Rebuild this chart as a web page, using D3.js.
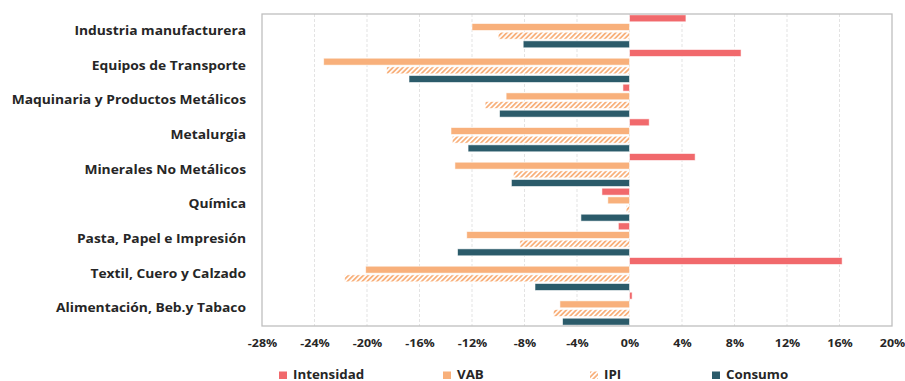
<!DOCTYPE html>
<html>
<head>
<meta charset="utf-8">
<script src="https://cdn.jsdelivr.net/npm/d3@7"></script>
<style>
  html, body { margin: 0; padding: 0; background: #fff; }
  svg { display: block; font-family: "Open Sans", sans-serif; }
</style>
</head>
<body>
<svg id="chart" width="905" height="381"></svg>
<script>
// Sector names, top to bottom
const categories = [
  "Industria manufacturera",
  "Equipos de Transporte",
  "Maquinaria y Productos Metálicos",
  "Metalurgia",
  "Minerales No Metálicos",
  "Química",
  "Pasta, Papel e Impresión",
  "Textil, Cuero y Calzado",
  "Alimentación, Beb.y Tabaco"
];

// Year-on-year change (%) per sector
const intensidad = [4.3, 8.5, -0.5, 1.5, 5.0, -2.1, -0.85, 16.2, 0.2];
const vab        = [-12.0, -23.3, -9.4, -13.6, -13.3, -1.65, -12.4, -20.1, -5.3];
const ipi        = [-10.0, -18.5, -11.0, -13.5, -8.85, -0.25, -8.35, -21.7, -5.8];
const consumo    = [-8.1, -16.8, -9.9, -12.3, -9.0, -3.7, -13.1, -7.2, -5.1];

const seriesNames = ["Intensidad", "VAB", "IPI", "Consumo"];
const seriesValues = [intensidad, vab, ipi, consumo];

const tickValues = [-28, -24, -20, -16, -12, -8, -4, 0, 4, 8, 12, 16, 20];

const colors = {
  Intensidad: "#F1696C",
  VAB: "#F8B07B",
  IPI: "url(#hatchIPI)",
  Consumo: "#2B5B6A"
};

const FONT = "'Open Sans', sans-serif";

// Widen glyphs horizontally for a broader lettering look
function widen(sel, factor) {
  sel.each(function () {
    const len = this.getComputedTextLength();
    d3.select(this)
      .attr("textLength", len * factor)
      .attr("lengthAdjust", "spacingAndGlyphs");
  });
}

const svg = d3.select("#chart");
const margin = { left: 262, right: 13, top: 14, bottom: 55 };
const W = 905, H = 381;
const plotW = W - margin.left - margin.right;
const plotH = H - margin.top - margin.bottom;

// Diagonal hatch used for IPI
const defs = svg.append("defs");
const pat = defs.append("pattern")
  .attr("id", "hatchIPI")
  .attr("patternUnits", "userSpaceOnUse")
  .attr("width", 3.5).attr("height", 3.5)
  .attr("patternTransform", "rotate(45)");
pat.append("rect").attr("width", 3.5).attr("height", 3.5).attr("fill", "#fff");
pat.append("rect").attr("x", 0).attr("y", 0).attr("width", 1.8).attr("height", 3.5).attr("fill", "#F8B07B");

const g = svg.append("g").attr("transform", `translate(${margin.left},${margin.top})`);

const x = d3.scaleLinear().domain([-28, 20]).range([0, plotW]);
const y0 = d3.scaleBand().domain(categories).range([0, plotH]).padding(0);
const y1 = d3.scaleBand().domain(seriesNames).range([0, y0.bandwidth()])
  .paddingInner(0.2).paddingOuter(0.1);

// Dashed vertical gridlines
g.append("g").selectAll("line")
  .data(tickValues.slice(1, -1))
  .join("line")
  .attr("x1", d => x(d)).attr("x2", d => x(d))
  .attr("y1", 0).attr("y2", plotH)
  .attr("stroke", "#e3e3e3")
  .attr("stroke-width", 1)
  .attr("stroke-dasharray", "3,2");

// Bars
const rows = categories.map((c, i) => ({
  cat: c,
  vals: seriesNames.map((s, j) => ({ s, v: seriesValues[j][i] }))
}));

g.append("g").selectAll("g")
  .data(rows)
  .join("g")
  .attr("transform", d => `translate(0,${y0(d.cat)})`)
  .selectAll("rect")
  .data(d => d.vals)
  .join("rect")
  .attr("x", d => x(Math.min(0, d.v)))
  .attr("width", d => Math.abs(x(d.v) - x(0)))
  .attr("y", d => y1(d.s))
  .attr("height", y1.bandwidth())
  .attr("fill", d => colors[d.s])
  .attr("stroke", "#fff")
  .attr("stroke-opacity", 0.7)
  .attr("stroke-width", 0.8);

// Plot frame
g.append("rect")
  .attr("x", 0).attr("y", 0)
  .attr("width", plotW).attr("height", plotH)
  .attr("fill", "none")
  .attr("stroke", "#bfbfbf")
  .attr("stroke-width", 1.3);

// Category labels
const yAxis = d3.axisLeft(y0).tickSize(0).tickPadding(16);
const ya = g.append("g").call(yAxis);
ya.select(".domain").remove();
ya.selectAll("text")
  .attr("font-family", FONT)
  .attr("font-size", 11.5)
  .attr("font-weight", 700)
  .attr("fill", "#262626")
  .call(widen, 1.2);

// Percentage ticks
const xAxis = d3.axisBottom(x).tickValues(tickValues).tickSize(0).tickPadding(13.5)
  .tickFormat(d => d + "%");
const xa = g.append("g").attr("transform", `translate(0,${plotH})`).call(xAxis);
xa.select(".domain").remove();
xa.selectAll("text")
  .attr("font-family", FONT)
  .attr("font-size", 11)
  .attr("font-weight", 700)
  .attr("fill", "#262626")
  .call(widen, 1.13);

// Legend
const legendX = [279, 443, 590, 712];
const lg = svg.append("g").selectAll("g")
  .data(seriesNames)
  .join("g")
  .attr("transform", (d, i) => `translate(${legendX[i]},371)`);
lg.append("rect")
  .attr("y", 0.5)
  .attr("width", 8).attr("height", 7.5)
  .attr("fill", d => colors[d]);
lg.append("text")
  .attr("x", 14).attr("y", 7.5)
  .attr("font-family", FONT)
  .attr("font-size", 12)
  .attr("font-weight", 700)
  .attr("fill", "#262626")
  .text(d => d)
  .call(widen, 1.11);
</script>
</body>
</html>
